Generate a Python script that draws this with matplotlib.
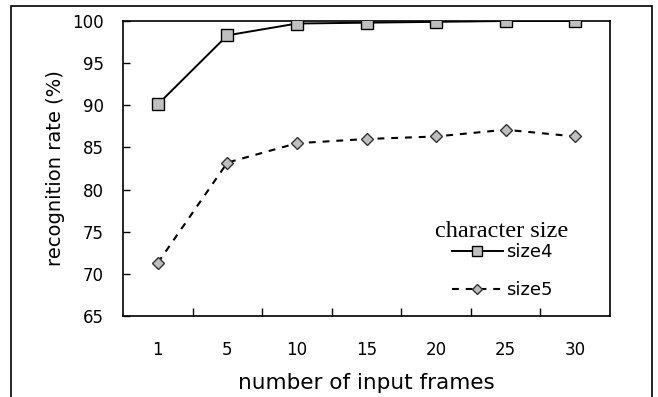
import matplotlib
matplotlib.use("Agg")
import matplotlib.pyplot as plt
from matplotlib.patches import Rectangle

categories = ["1", "5", "10", "15", "20", "25", "30"]
size4 = [90.1, 98.3, 99.7, 99.8, 99.9, 100.0, 100.0]
size5 = [71.3, 83.2, 85.5, 86.0, 86.3, 87.1, 86.3]
yticks = [65, 70, 75, 80, 85, 90, 95, 100]

plt.rcParams['font.family'] = ['DejaVu Sans']

W, H = 658, 397
fig = plt.figure(figsize=(W/100, H/100), dpi=100)
ax = fig.add_axes([123/W, 1-316/H, (610-123)/W, (316-21)/H])

x = list(range(len(categories)))
ax.plot(x, size4, color='black', lw=1.4, marker='s', ms=8, mfc='#bfbfbf',
        mec='black', mew=1.0, label='size4', zorder=3)
ax.plot(x, size5, color='black', lw=1.5, ls=(0, (3.3, 3.3)), marker='D', ms=6.5,
        mfc='#bfbfbf', mec='#333333', mew=1.0, label='size5', zorder=3)

ax.set_xlim(-0.5, len(categories)-0.5)
ax.set_ylim(65, 100)
ax.set_xticks(x)
ax.set_xticklabels(categories, fontsize=12)
ax.set_xticks([i+0.5 for i in range(len(categories)-1)], minor=True)
ax.tick_params(axis='x', which='major', length=0, pad=18)
ax.tick_params(axis='x', which='minor', direction='in', length=6, width=1)
ax.set_yticks(yticks)
ax.set_yticklabels([str(v) for v in yticks], fontsize=12)
ax.tick_params(axis='y', direction='in', length=5, width=1, pad=14)
for s in ax.spines.values():
    s.set_linewidth(1.2)

ax.set_xlabel('number of input frames', fontsize=15.5, labelpad=10)
ax.set_ylabel('recognition rate (%)', fontsize=14, labelpad=5)

leg = ax.legend(loc='center left', bbox_to_anchor=((452-123)/487, (316-271)/295),
                frameon=False, fontsize=13, handlelength=2.8,
                labelspacing=1.1, borderpad=0, borderaxespad=0,
                handletextpad=0.2, markerscale=0.85)
ax.text((568-123)/487, (316-231)/295, 'character size', transform=ax.transAxes,
        ha='right', va='center', fontsize=17.5, family='Liberation Serif')

fig.patches.append(Rectangle((11/W, -0.05), (652-11)/W, 1.05-5.5/H,
                             transform=fig.transFigure, fill=False,
                             edgecolor='black', lw=1.2))

fig.savefig('out.png', dpi=100)
